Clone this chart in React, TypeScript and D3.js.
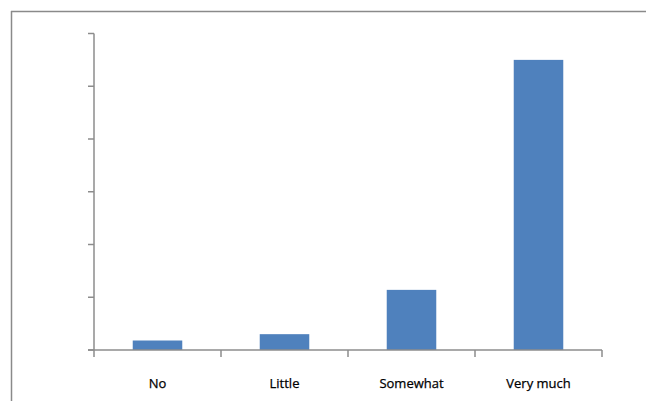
import React from "react";
import * as d3 from "d3";

const categories = ["No", "Little", "Somewhat", "Very much"];
const values = [0.18, 0.3, 1.14, 5.5];
const yTicks = [0, 1, 2, 3, 4, 5, 6];

const W = 646;
const H = 401;
const axisColor = "#8c8c8c";

export default function App() {
  const x = d3
    .scaleBand<string>()
    .domain(categories)
    .range([94, 602])
    .paddingInner(0.61)
    .paddingOuter(0.305);
  const y = d3.scaleLinear().domain([0, 6]).range([350, 33.5]);
  const step = x.step();
  const x0 = 94;
  const boundaries = d3.range(categories.length + 1).map((i) => x0 + i * step);

  return (
    <svg
      width={W}
      height={H}
      style={{ position: "absolute", left: 0, top: 0, background: "#fff" }}
    >
      <rect x={0} y={0} width={W} height={H} fill="#fff" />
      {/* outer border (left and top only visible) */}
      <line x1={11.5} y1={11} x2={11.5} y2={H} stroke="#8a8a8a" strokeWidth={1.5} />
      <line x1={11} y1={11.5} x2={W} y2={11.5} stroke="#8a8a8a" strokeWidth={1.5} />

      {/* bars */}
      {categories.map((c, i) => (
        <rect
          key={c}
          x={x(c)}
          y={y(values[i])}
          width={x.bandwidth()}
          height={y(0) - y(values[i])}
          fill="#4f81bd"
        />
      ))}

      {/* y axis */}
      <line x1={94} y1={y(6)} x2={94} y2={y(0)} stroke={axisColor} strokeWidth={1.5} />
      {yTicks.map((t) => (
        <line key={t} x1={88} y1={y(t)} x2={94} y2={y(t)} stroke={axisColor} strokeWidth={1.5} />
      ))}

      {/* x axis */}
      <line x1={88} y1={y(0)} x2={602} y2={y(0)} stroke={axisColor} strokeWidth={1.5} />
      {boundaries.map((b, i) => (
        <line key={i} x1={b} y1={y(0)} x2={b} y2={y(0) + 7} stroke={axisColor} strokeWidth={1.5} />
      ))}

      {/* category labels */}
      {categories.map((c) => (
        <text
          key={c}
          x={(x(c) as number) + x.bandwidth() / 2}
          y={388}
          textAnchor="middle"
          fontFamily="'Open Sans', sans-serif"
          fontSize={13}
          fill="#000"
          stroke="#000"
          strokeWidth={0.25}
        >
          {c}
        </text>
      ))}
    </svg>
  );
}
